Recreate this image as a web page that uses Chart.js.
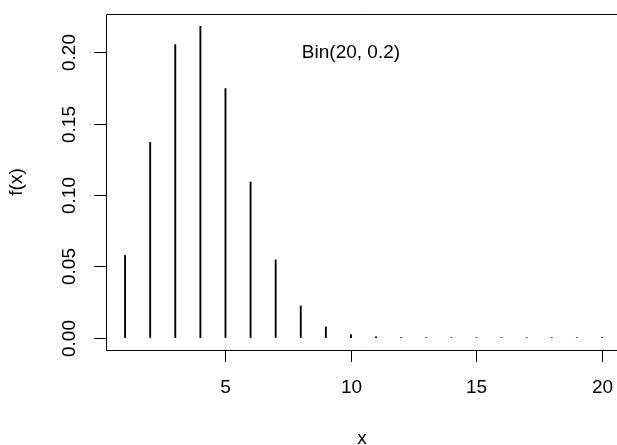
<!DOCTYPE html>
<html>
<head>
<meta charset="utf-8">
<script src="https://cdn.jsdelivr.net/npm/chart.js@4"></script>
<style>
  html, body { margin: 0; padding: 0; background: #fff; }
  #wrap { width: 617px; height: 445px; }
</style>
</head>
<body>
<div id="wrap"><canvas id="chart"></canvas></div>
<script>
// values
const xs = [1, 2, 3, 4, 5, 6, 7, 8, 9, 10, 11, 12, 13, 14, 15, 16, 17, 18, 19, 20];
const probs = [0.0576, 0.1369, 0.2054, 0.2182, 0.1746, 0.1091, 0.0545, 0.0222, 0.0074, 0.0020,
               0.0005, 0.0001, 0.00002, 0.000003, 0.0000004, 0, 0, 0, 0, 0];
const xTicks = [5, 10, 15, 20];
const yTicks = [0.00, 0.05, 0.10, 0.15, 0.20];
const label = 'Bin(20, 0.2)';

const font = '19px "Liberation Sans", Arial, sans-serif';

// R style axes, box and text drawn from the scales
const rAxes = {
    id: 'rAxes',
    afterDraw(chart) {
        const ctx = chart.ctx;
        const xs_ = chart.scales.x, ys_ = chart.scales.y;
        const a = chart.chartArea;
        ctx.save();
        ctx.strokeStyle = '#000';
        ctx.lineWidth = 1;
        ctx.beginPath();
        ctx.moveTo(a.right + 2, a.top + 0.5);
        ctx.lineTo(a.left + 0.5, a.top + 0.5);
        ctx.lineTo(a.left + 0.5, a.bottom + 0.5);
        ctx.lineTo(a.right + 2, a.bottom + 0.5);
        ctx.stroke();

        ctx.fillStyle = '#000';
        ctx.font = font;
        // x ticks
        ctx.textAlign = 'center';
        ctx.textBaseline = 'middle';
        xTicks.forEach(v => {
            const px = Math.round(xs_.getPixelForValue(v)) + 0.5;
            ctx.beginPath();
            ctx.moveTo(px, a.bottom);
            ctx.lineTo(px, a.bottom + 12);
            ctx.stroke();
            ctx.fillText(String(v), px, 388);
        });
        // y ticks, rotated labels
        yTicks.forEach(v => {
            const py = Math.round(ys_.getPixelForValue(v)) + 0.5;
            ctx.beginPath();
            ctx.moveTo(a.left, py);
            ctx.lineTo(a.left - 12, py);
            ctx.stroke();
            ctx.save();
            ctx.translate(70, py);
            ctx.rotate(-Math.PI / 2);
            ctx.fillText(v.toFixed(2), 0, 0);
            ctx.restore();
        });
        // axis titles
        ctx.textBaseline = 'alphabetic';
        ctx.fillText('x', 362, 444);
        ctx.textBaseline = 'middle';
        ctx.save();
        ctx.translate(17, (a.top + a.bottom) / 2);
        ctx.rotate(-Math.PI / 2);
        ctx.fillText('f(x)', 0, 0);
        ctx.restore();
        // annotation
        ctx.fillText(label, xs_.getPixelForValue(10), ys_.getPixelForValue(0.2));
        ctx.restore();
    }
};

new Chart(document.getElementById('chart'), {
    type: 'bar',
    data: {
        datasets: [{
            data: xs.map((x, i) => ({ x: x, y: probs[i] })),
            backgroundColor: '#000',
            borderWidth: 0,
            barThickness: 1.2
        }]
    },
    options: {
        responsive: true,
        maintainAspectRatio: false,
        animation: false,
        layout: { padding: { left: 106, top: 14, right: 0, bottom: 95 } },
        plugins: { legend: { display: false }, tooltip: { enabled: false } },
        scales: {
            x: { type: 'linear', min: 0.24, max: 20.6, offset: false, display: false },
            y: { min: -0.00873, max: 0.2269, display: false }
        }
    },
    plugins: [rAxes]
});
</script>
</body>
</html>
